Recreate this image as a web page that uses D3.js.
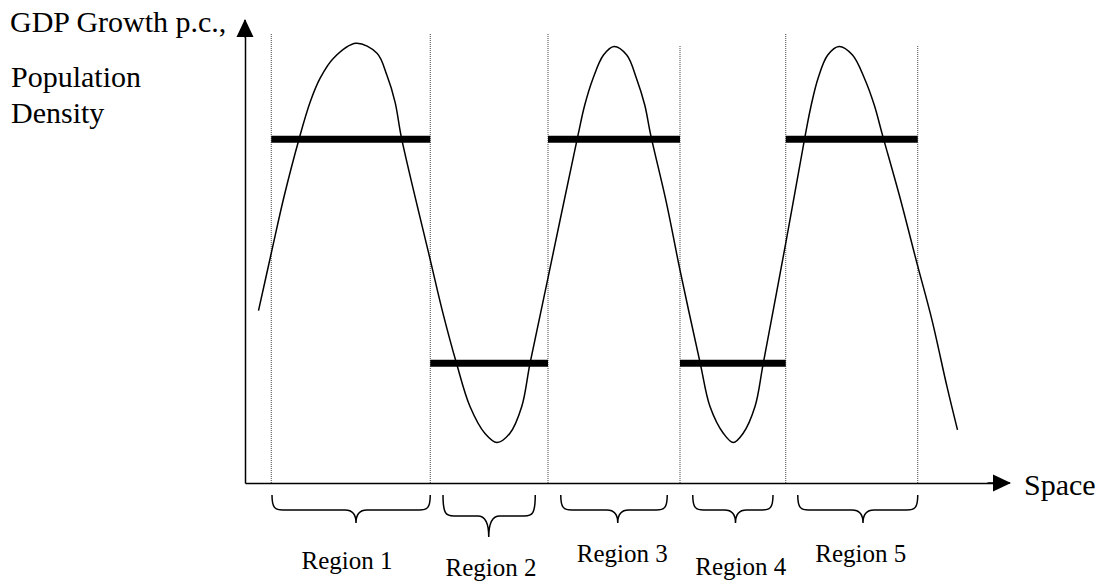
<!DOCTYPE html>
<html>
<head>
<meta charset="utf-8">
<title>GDP growth and population density over space</title>
<script src="https://cdn.jsdelivr.net/npm/d3@7"></script>
<style>
  html, body { margin: 0; padding: 0; background: #fff; }
</style>
</head>
<body>
<script>
// Size of the svg
var w = 1104;
var h = 583;
var serif = "'Liberation Serif', 'Times New Roman', Times, Tinos, 'Nimbus Roman', 'TeX Gyre Termes', 'Noto Serif', 'DejaVu Serif', FreeSerif, serif";

// Region names
var regions = ["Region 1", "Region 2", "Region 3", "Region 4", "Region 5"];

// Borders of the regions along the space axis (0-100)
var regionStart = [3.5, 24.7, 40.4, 58.0, 72.1];
var regionEnd = [24.7, 40.4, 58.0, 72.1, 89.7];
// height the dotted borders reach (one per border)
var borderPos = [3.5, 24.7, 40.4, 58.0, 72.1, 89.7];
var borderTop = [100, 100, 100, 97.3, 100, 97.3];

// Population density per region (thick bars)
var density = [76.4, 26.6, 76.4, 26.6, 76.4];

// GDP growth p.c. along space (thin curve)
var growthX = [1.8, 3.6, 5.2, 7.2, 8.7, 10.0, 11.8, 14.8, 17.6, 18.9, 20.0, 20.9,
  24.7, 26.4, 28.2, 30.0, 32.0, 33.6, 35.3, 36.9, 38.0,
  40.4, 44.4, 45.3, 46.4, 47.8, 49.2, 50.9, 52.2, 53.3, 54.1, 56.2,
  58.0, 60.7, 62.0, 63.8, 65.1, 66.4, 68.0, 69.1,
  72.1, 74.7, 75.5, 76.4, 77.7, 79.2, 81.0, 82.6, 83.9, 85.0, 87.3,
  89.6, 91.6, 93.6, 95.0];
var growthY = [38.3, 51.8, 63.6, 76.4, 84.7, 89.9, 94.4, 97.7, 95.5, 90.7, 84.7, 76.4,
  49.6, 37.7, 26.6, 17.0, 11.0, 9.0, 11.0, 17.0, 26.6,
  45.6, 77.3, 84.0, 89.9, 95.1, 97.0, 95.1, 89.9, 84.0, 77.3, 62.2,
  47.3, 26.6, 17.0, 11.0, 9.0, 11.0, 17.0, 26.6,
  53.3, 77.3, 84.0, 89.9, 95.1, 97.0, 95.1, 89.9, 84.0, 77.3, 63.6,
  48.8, 36.2, 21.4, 11.8];

// Braces under the axis
var braceStart = [3.6, 26.4, 42.1, 59.7, 73.7];
var braceEnd = [24.7, 38.7, 56.3, 70.4, 89.7];
var braceTip = [14.8, 32.5, 49.7, 65.4, 82.4];
var labelAt = [13.6, 32.8, 50.3, 66.1, 82.1];

// layout of braces and labels (pixels)
var braceTop = 495;
var braceFlat = [510, 516, 510, 510, 510];
var bracePoint = [523, 537, 523, 523, 523];
var labelBase = [569, 576, 562, 575, 562];

var svg = d3.select("body").append("svg").attr("width", w).attr("height", h);

var x = d3.scaleLinear().domain([0, 100]).range([245, 995]);
var y = d3.scaleLinear().domain([0, 100]).range([483, 33]);

// arrow heads for the axes
svg.append("defs").append("marker")
  .attr("id", "arrow")
  .attr("markerUnits", "userSpaceOnUse")
  .attr("viewBox", "0 -9 18 18")
  .attr("refX", 17).attr("refY", 0)
  .attr("markerWidth", 18).attr("markerHeight", 18)
  .attr("orient", "auto")
  .append("path").attr("d", "M0,-8.5L18,0L0,8.5Z").attr("fill", "#000");

// dotted region borders
svg.selectAll("line.border").data(borderPos).enter().append("line")
  .attr("class", "border")
  .attr("x1", function(d){ return x(d); })
  .attr("x2", function(d){ return x(d); })
  .attr("y1", y(0))
  .attr("y2", function(d, i){ return y(borderTop[i]); })
  .attr("stroke", "#444")
  .attr("stroke-width", 1)
  .attr("stroke-dasharray", "1,1");

// axes (no ticks), extended to the arrow tips
svg.append("g").attr("transform", "translate(0," + y(0) + ")")
  .call(d3.axisBottom(x).tickValues([]).tickSizeOuter(0))
  .select(".domain").attr("stroke-width", 1.5);
svg.append("g").attr("transform", "translate(" + x(0) + ",0)")
  .call(d3.axisLeft(y).tickValues([]).tickSizeOuter(0))
  .select(".domain").attr("stroke-width", 1.5);
svg.append("line")
  .attr("x1", x(99)).attr("x2", x(102)).attr("y1", y(0)).attr("y2", y(0))
  .attr("stroke", "#000").attr("stroke-width", 1.5).attr("marker-end", "url(#arrow)");
svg.append("line")
  .attr("x1", x(0)).attr("x2", x(0)).attr("y1", y(99)).attr("y2", y(102.9))
  .attr("stroke", "#000").attr("stroke-width", 1.5).attr("marker-end", "url(#arrow)");

// population density bars
svg.selectAll("line.density").data(density).enter().append("line")
  .attr("class", "density")
  .attr("x1", function(d, i){ return x(regionStart[i]); })
  .attr("x2", function(d, i){ return x(regionEnd[i]); })
  .attr("y1", function(d){ return y(d); })
  .attr("y2", function(d){ return y(d); })
  .attr("stroke", "#000")
  .attr("stroke-width", 7);

// gdp growth curve
var line = d3.line()
  .x(function(d){ return x(d); })
  .y(function(d, i){ return y(growthY[i]); })
  .curve(d3.curveCatmullRom.alpha(0.5));
svg.append("path").attr("d", line(growthX))
  .attr("fill", "none").attr("stroke", "#000").attr("stroke-width", 1.5);

// braces
function brace(i) {
  var x0 = x(braceStart[i]), x1 = x(braceEnd[i]), m = x(braceTip[i]);
  var f = braceFlat[i], p = bracePoint[i], r = 11;
  return "M" + x0 + "," + braceTop +
    "C" + x0 + "," + (f - 2) + " " + (x0 + 3) + "," + f + " " + (x0 + r) + "," + f +
    "L" + (m - r) + "," + f +
    "Q" + m + "," + f + " " + m + "," + p +
    "Q" + m + "," + f + " " + (m + r) + "," + f +
    "L" + (x1 - r) + "," + f +
    "C" + (x1 - 3) + "," + f + " " + x1 + "," + (f - 2) + " " + x1 + "," + braceTop;
}
svg.selectAll("path.brace").data(regions).enter().append("path")
  .attr("class", "brace")
  .attr("d", function(d, i){ return brace(i); })
  .attr("fill", "none").attr("stroke", "#000").attr("stroke-width", 1.5);

svg.selectAll("text.region").data(regions).enter().append("text")
  .attr("class", "region")
  .attr("x", function(d, i){ return x(labelAt[i]); })
  .attr("y", function(d, i){ return labelBase[i]; })
  .attr("text-anchor", "middle")
  .attr("font-family", serif)
  .attr("font-size", 25)
  .text(function(d){ return d; });

// axis titles
function title(tx, ty, s) {
  svg.append("text").attr("x", tx).attr("y", ty)
    .attr("font-family", serif).attr("font-size", 30).text(s);
}
title(10, 32, "GDP Growth p.c.,");
title(11, 87, "Population");
title(11, 123, "Density");
title(1024, 495, "Space");
</script>
</body>
</html>
